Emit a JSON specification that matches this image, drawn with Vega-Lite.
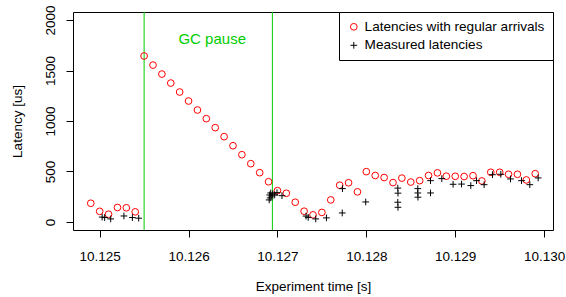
{
  "$schema": "https://vega.github.io/schema/vega-lite/v6.json",
  "width": 480,
  "height": 218,
  "autosize": {"type": "none"},
  "padding": {"left": 73, "top": 12, "right": 13, "bottom": 67},
  "background": "white",
  "config": {
    "font": "Liberation Sans",
    "view": {"stroke": "black", "strokeWidth": 1},
    "axis": {"grid": false, "domain": false, "tickColor": "black", "tickSize": 7, "labelColor": "black", "labelFontSize": 13.5, "titleFontSize": 13.5, "titleFontWeight": "normal", "titleColor": "black", "labelFont": "Liberation Sans", "titleFont": "Liberation Sans"},
    "legend": {"orient": "top-right", "offset": 0, "padding": 8, "strokeColor": "black", "strokeWidth": 1, "fillColor": "white", "cornerRadius": 0, "labelFontSize": 13.6, "labelColor": "black", "labelFont": "Liberation Sans", "labelOffset": 4, "labelLimit": 400, "rowPadding": 3.5, "symbolSize": 45, "symbolStrokeWidth": 1}
  },
  "datasets": {
    "gc": [{"t": 10.1255}, {"t": 10.126943}],
    "lab": [{"t": 10.126266, "v": 1760, "label": "GC pause"}],
    "pts": [
      {"t": 10.1249, "v": 185, "s": "Latencies with regular arrivals"},
      {"t": 10.1250, "v": 105, "s": "Latencies with regular arrivals"},
      {"t": 10.1251, "v": 76, "s": "Latencies with regular arrivals"},
      {"t": 10.1252, "v": 143, "s": "Latencies with regular arrivals"},
      {"t": 10.1253, "v": 140, "s": "Latencies with regular arrivals"},
      {"t": 10.1254, "v": 100, "s": "Latencies with regular arrivals"},
      {"t": 10.1255, "v": 1644, "s": "Latencies with regular arrivals"},
      {"t": 10.1256, "v": 1554, "s": "Latencies with regular arrivals"},
      {"t": 10.1257, "v": 1465, "s": "Latencies with regular arrivals"},
      {"t": 10.1258, "v": 1376, "s": "Latencies with regular arrivals"},
      {"t": 10.1259, "v": 1287, "s": "Latencies with regular arrivals"},
      {"t": 10.1260, "v": 1198, "s": "Latencies with regular arrivals"},
      {"t": 10.1261, "v": 1109, "s": "Latencies with regular arrivals"},
      {"t": 10.1262, "v": 1023, "s": "Latencies with regular arrivals"},
      {"t": 10.1263, "v": 934, "s": "Latencies with regular arrivals"},
      {"t": 10.1264, "v": 845, "s": "Latencies with regular arrivals"},
      {"t": 10.1265, "v": 755, "s": "Latencies with regular arrivals"},
      {"t": 10.1266, "v": 666, "s": "Latencies with regular arrivals"},
      {"t": 10.1267, "v": 577, "s": "Latencies with regular arrivals"},
      {"t": 10.1268, "v": 488, "s": "Latencies with regular arrivals"},
      {"t": 10.1269, "v": 398, "s": "Latencies with regular arrivals"},
      {"t": 10.1270, "v": 310, "s": "Latencies with regular arrivals"},
      {"t": 10.1271, "v": 284, "s": "Latencies with regular arrivals"},
      {"t": 10.1272, "v": 195, "s": "Latencies with regular arrivals"},
      {"t": 10.1273, "v": 106, "s": "Latencies with regular arrivals"},
      {"t": 10.1274, "v": 70, "s": "Latencies with regular arrivals"},
      {"t": 10.1275, "v": 94, "s": "Latencies with regular arrivals"},
      {"t": 10.1276, "v": 218, "s": "Latencies with regular arrivals"},
      {"t": 10.1277, "v": 364, "s": "Latencies with regular arrivals"},
      {"t": 10.1278, "v": 388, "s": "Latencies with regular arrivals"},
      {"t": 10.1279, "v": 298, "s": "Latencies with regular arrivals"},
      {"t": 10.1280, "v": 498, "s": "Latencies with regular arrivals"},
      {"t": 10.1281, "v": 460, "s": "Latencies with regular arrivals"},
      {"t": 10.1282, "v": 440, "s": "Latencies with regular arrivals"},
      {"t": 10.1283, "v": 390, "s": "Latencies with regular arrivals"},
      {"t": 10.1284, "v": 434, "s": "Latencies with regular arrivals"},
      {"t": 10.1285, "v": 395, "s": "Latencies with regular arrivals"},
      {"t": 10.1286, "v": 409, "s": "Latencies with regular arrivals"},
      {"t": 10.1287, "v": 460, "s": "Latencies with regular arrivals"},
      {"t": 10.1288, "v": 486, "s": "Latencies with regular arrivals"},
      {"t": 10.1289, "v": 453, "s": "Latencies with regular arrivals"},
      {"t": 10.1290, "v": 452, "s": "Latencies with regular arrivals"},
      {"t": 10.1291, "v": 450, "s": "Latencies with regular arrivals"},
      {"t": 10.1292, "v": 458, "s": "Latencies with regular arrivals"},
      {"t": 10.1293, "v": 406, "s": "Latencies with regular arrivals"},
      {"t": 10.1294, "v": 492, "s": "Latencies with regular arrivals"},
      {"t": 10.1295, "v": 492, "s": "Latencies with regular arrivals"},
      {"t": 10.1296, "v": 472, "s": "Latencies with regular arrivals"},
      {"t": 10.1297, "v": 472, "s": "Latencies with regular arrivals"},
      {"t": 10.1298, "v": 416, "s": "Latencies with regular arrivals"},
      {"t": 10.1299, "v": 478, "s": "Latencies with regular arrivals"},
      {"t": 10.125028, "v": 48, "s": "Measured latencies"},
      {"t": 10.125056, "v": 43, "s": "Measured latencies"},
      {"t": 10.125124, "v": 30, "s": "Measured latencies"},
      {"t": 10.125273, "v": 59, "s": "Measured latencies"},
      {"t": 10.125368, "v": 43, "s": "Measured latencies"},
      {"t": 10.125439, "v": 37, "s": "Measured latencies"},
      {"t": 10.126907, "v": 218, "s": "Measured latencies"},
      {"t": 10.126913, "v": 267, "s": "Measured latencies"},
      {"t": 10.126918, "v": 238, "s": "Measured latencies"},
      {"t": 10.126924, "v": 287, "s": "Measured latencies"},
      {"t": 10.126936, "v": 257, "s": "Measured latencies"},
      {"t": 10.126947, "v": 277, "s": "Measured latencies"},
      {"t": 10.126969, "v": 267, "s": "Measured latencies"},
      {"t": 10.126995, "v": 290, "s": "Measured latencies"},
      {"t": 10.127051, "v": 260, "s": "Measured latencies"},
      {"t": 10.127322, "v": 58, "s": "Measured latencies"},
      {"t": 10.127346, "v": 45, "s": "Measured latencies"},
      {"t": 10.127431, "v": 30, "s": "Measured latencies"},
      {"t": 10.127551, "v": 40, "s": "Measured latencies"},
      {"t": 10.127729, "v": 89, "s": "Measured latencies"},
      {"t": 10.127731, "v": 330, "s": "Measured latencies"},
      {"t": 10.127993, "v": 198, "s": "Measured latencies"},
      {"t": 10.128354, "v": 335, "s": "Measured latencies"},
      {"t": 10.128356, "v": 285, "s": "Measured latencies"},
      {"t": 10.128354, "v": 195, "s": "Measured latencies"},
      {"t": 10.128356, "v": 145, "s": "Measured latencies"},
      {"t": 10.128579, "v": 330, "s": "Measured latencies"},
      {"t": 10.128579, "v": 287, "s": "Measured latencies"},
      {"t": 10.128581, "v": 245, "s": "Measured latencies"},
      {"t": 10.128722, "v": 409, "s": "Measured latencies"},
      {"t": 10.128722, "v": 287, "s": "Measured latencies"},
      {"t": 10.128849, "v": 429, "s": "Measured latencies"},
      {"t": 10.128976, "v": 373, "s": "Measured latencies"},
      {"t": 10.129071, "v": 375, "s": "Measured latencies"},
      {"t": 10.129175, "v": 360, "s": "Measured latencies"},
      {"t": 10.129240, "v": 409, "s": "Measured latencies"},
      {"t": 10.129325, "v": 369, "s": "Measured latencies"},
      {"t": 10.129419, "v": 468, "s": "Measured latencies"},
      {"t": 10.129513, "v": 472, "s": "Measured latencies"},
      {"t": 10.129622, "v": 426, "s": "Measured latencies"},
      {"t": 10.129746, "v": 409, "s": "Measured latencies"},
      {"t": 10.129839, "v": 369, "s": "Measured latencies"},
      {"t": 10.129933, "v": 436, "s": "Measured latencies"}
    ]
  },
  "encoding": {
    "x": {
      "field": "t",
      "type": "quantitative",
      "scale": {"domain": [10.1247, 10.1301], "nice": false, "zero": false},
      "axis": {"values": [10.125, 10.126, 10.127, 10.128, 10.129, 10.13], "format": ".3f", "title": "Experiment time [s]", "labelBaseline": "alphabetic", "labelPadding": 23.5, "labelFlush": false, "labelOverlap": false, "titleBaseline": "alphabetic", "titleY": 60.5}
    }
  },
  "layer": [
    {
      "data": {"name": "gc"},
      "mark": {"type": "rule", "color": "#00CD00", "strokeWidth": 1}
    },
    {
      "data": {"name": "lab"},
      "mark": {"type": "text", "color": "#00CD00", "fontSize": 15, "baseline": "alphabetic", "align": "center", "font": "Liberation Sans"},
      "encoding": {
        "y": {"field": "v", "type": "quantitative", "scale": {"domain": [-80, 2080], "nice": false, "zero": false}},
        "text": {"field": "label"}
      }
    },
    {
      "data": {"name": "pts"},
      "mark": {"type": "point", "filled": false, "strokeWidth": 1, "size": 45, "opacity": 1},
      "encoding": {
        "y": {
          "field": "v",
          "type": "quantitative",
          "scale": {"domain": [-80, 2080], "nice": false, "zero": false},
          "axis": {"values": [0, 500, 1000, 1500, 2000], "format": "d", "title": "Latency [us]", "labelAngle": -90, "labelAlign": "center", "labelBaseline": "alphabetic", "labelPadding": 11.5, "titleAngle": -90, "titleAlign": "center", "titleBaseline": "alphabetic", "titleX": -51.5, "titleY": 109}
        },
        "color": {"field": "s", "type": "nominal", "scale": {"domain": ["Latencies with regular arrivals", "Measured latencies"], "range": ["#FF0000", "#000000"]}, "legend": {"title": null}},
        "shape": {"field": "s", "type": "nominal", "scale": {"domain": ["Latencies with regular arrivals", "Measured latencies"], "range": ["circle", "M-1,0L1,0M0,-1L0,1"]}, "legend": {"title": null}}
      }
    }
  ]
}
